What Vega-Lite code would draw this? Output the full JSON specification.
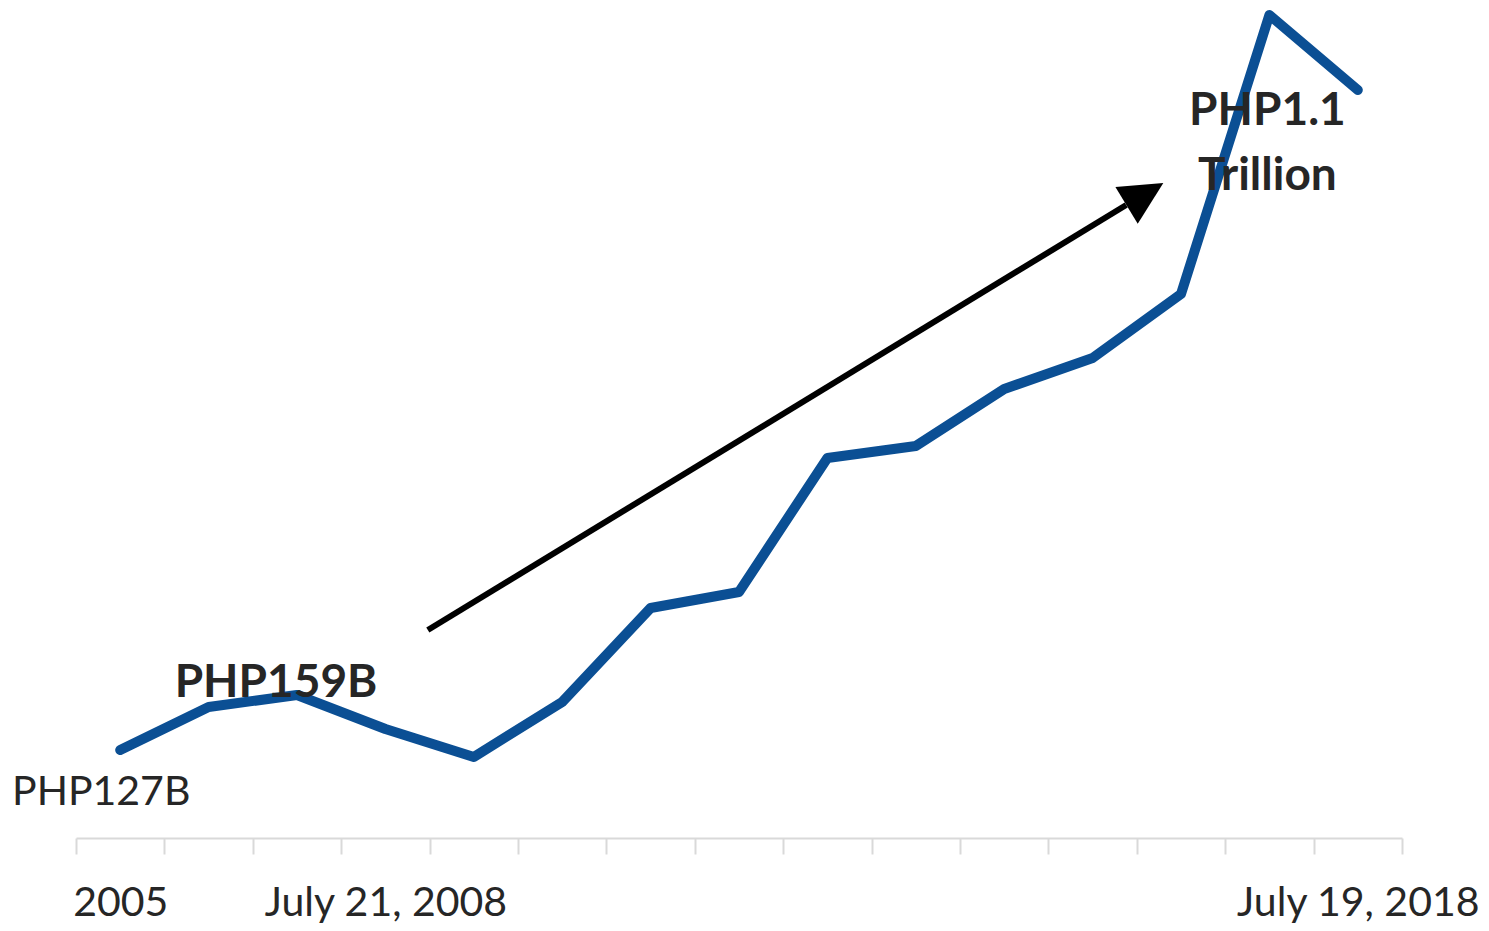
{
  "$schema": "https://vega.github.io/schema/vega-lite/v6.json",
  "width": 1326,
  "height": 838,
  "autosize": {"type": "none"},
  "padding": {"left": 76, "top": 0, "right": 87, "bottom": 93},
  "background": "white",
  "config": {"view": {"stroke": null}, "font": "Lato"},
  "datasets": {
    "series": [
      {"period": "2005", "value": 117.6, "note": "PHP127B"},
      {"period": "2006", "value": 175.1, "note": null},
      {"period": "2007", "value": 191.1, "note": "PHP159B"},
      {"period": "July 21, 2008", "value": 145.7, "note": null},
      {"period": "2009", "value": 108.3, "note": null},
      {"period": "2010", "value": 181.8, "note": null},
      {"period": "2011", "value": 307.4, "note": null},
      {"period": "2012", "value": 328.8, "note": null},
      {"period": "2013", "value": 507.9, "note": null},
      {"period": "2014", "value": 523.9, "note": null},
      {"period": "2015", "value": 600.1, "note": null},
      {"period": "2016", "value": 641.5, "note": null},
      {"period": "2017", "value": 727.1, "note": null},
      {"period": "2018", "value": 1100, "note": "PHP1.1\nTrillion"},
      {"period": "July 19, 2018", "value": 999.7, "note": null}
    ],
    "arrow": [{"x": 4.48, "y": 278, "x2": 12.38, "y2": 846}],
    "head": [{"x": 12.8, "y": 875.4}]
  },
  "layer": [
    {
      "data": {"name": "series"},
      "encoding": {
        "x": {
          "field": "period",
          "type": "ordinal",
          "sort": null,
          "scale": {"type": "band", "paddingInner": 0, "paddingOuter": 0},
          "axis": {
            "title": null,
            "tickBand": "extent",
            "labelExpr": "datum.label == '2005' || datum.label == 'July 21, 2008' || datum.label == 'July 19, 2018' ? datum.label : ''",
            "labelFont": "Lato",
            "labelFontSize": 41,
            "labelColor": "#262626",
            "labelAngle": 0,
            "labelOverlap": false,
            "labelLimit": 0,
            "labelPadding": 29,
            "tickColor": "#d9d9d9",
            "tickSize": 16,
            "tickWidth": 2,
            "domainColor": "#d9d9d9",
            "domainWidth": 2
          }
        },
        "y": {
          "field": "value",
          "type": "quantitative",
          "scale": {"domain": [0, 1120], "nice": false, "zero": false},
          "axis": null
        }
      },
      "layer": [
        {
          "mark": {"type": "line", "color": "#0b4f94", "strokeWidth": 10, "strokeCap": "round", "strokeJoin": "round"}
        },
        {
          "transform": [{"filter": "datum.period == '2005'"}],
          "mark": {"type": "text", "align": "center", "baseline": "alphabetic", "dx": -19, "dy": 55, "fontSize": 41, "font": "Lato", "color": "#262626"},
          "encoding": {"text": {"field": "note"}}
        },
        {
          "transform": [{"filter": "datum.period == '2007'"}],
          "mark": {"type": "text", "align": "center", "baseline": "alphabetic", "dx": -21, "dy": 2, "fontSize": 46, "fontWeight": "bold", "font": "Lato", "color": "#262626"},
          "encoding": {"text": {"field": "note"}}
        },
        {
          "transform": [{"filter": "datum.period == '2018'"}],
          "mark": {"type": "text", "align": "center", "baseline": "alphabetic", "dx": -2, "dy": 110, "lineHeight": 65, "lineBreak": "\n", "fontSize": 46, "fontWeight": "bold", "font": "Lato", "color": "#262626"},
          "encoding": {"text": {"field": "note"}}
        }
      ]
    },
    {
      "layer": [
        {
          "data": {"name": "arrow"},
          "mark": {"type": "rule", "color": "black", "strokeWidth": 6, "strokeCap": "butt"},
          "encoding": {
            "x": {"field": "x", "type": "quantitative", "scale": {"domain": [0.5, 15.5], "nice": false, "zero": false}, "axis": null},
            "x2": {"field": "x2"},
            "y": {"field": "y", "type": "quantitative", "scale": {"domain": [0, 1120], "nice": false, "zero": false}, "axis": null},
            "y2": {"field": "y2"}
          }
        },
        {
          "data": {"name": "head"},
          "mark": {"type": "point", "shape": "M0,0L0.5,1L-0.5,1Z", "angle": 58.7, "size": 7396, "filled": true, "color": "black", "opacity": 1, "strokeWidth": 0},
          "encoding": {
            "x": {"field": "x", "type": "quantitative", "scale": {"domain": [0.5, 15.5], "nice": false, "zero": false}, "axis": null},
            "y": {"field": "y", "type": "quantitative", "scale": {"domain": [0, 1120], "nice": false, "zero": false}, "axis": null}
          }
        }
      ]
    }
  ],
  "resolve": {"scale": {"x": "independent"}}
}
